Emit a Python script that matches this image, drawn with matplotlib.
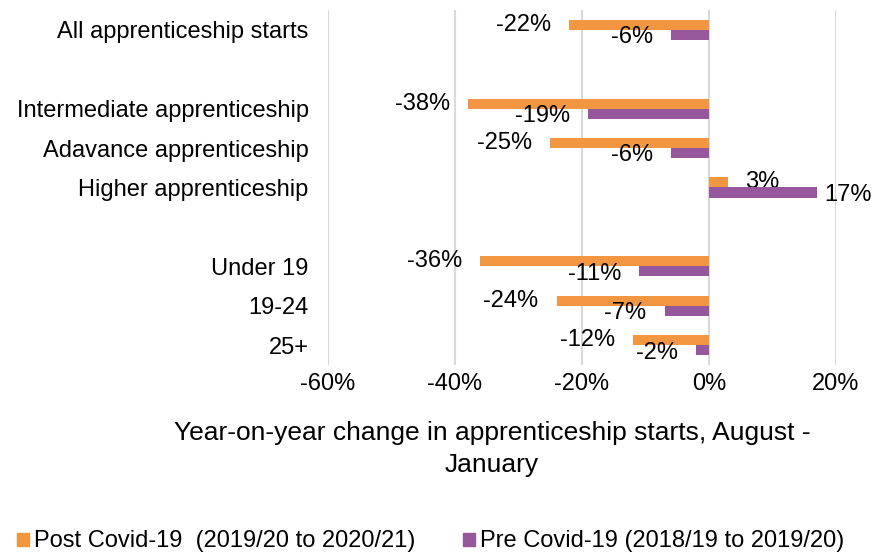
import numpy as np
import matplotlib.pyplot as plt

plt.rcParams['font.family'] = ['Liberation Sans', 'DejaVu Sans']

# ===================== 数据 =====================
categories = ['All apprenticeship starts', '', 'Intermediate apprenticeship',
              'Adavance apprenticeship', 'Higher apprenticeship', '',
              'Under 19', '19-24', '25+']
post_covid = [-22, None, -38, -25, 3, None, -36, -24, -12]
pre_covid = [-6, None, -19, -6, 17, None, -11, -7, -2]
post_label = 'Post Covid-19  (2019/20 to 2020/21)'
pre_label = 'Pre Covid-19 (2018/19 to 2019/20)'
x_ticks = [-60, -40, -20, 0, 20]

ORANGE = '#F39641'
PURPLE = '#97579D'
FS = 17
W, H = 872, 553

fig = plt.figure(figsize=(W / 100, H / 100), dpi=100)
ax = fig.add_axes([328 / W, 1 - 365 / H, (836 - 328) / W, (365 - 10) / H])

y = np.arange(len(categories))
h = 0.255
for vals, off, col, dy in [(post_covid, -h / 2, ORANGE, 0.0), (pre_covid, h / 2, PURPLE, 0.06)]:
    for yi, v in zip(y, vals):
        if v is None:
            continue
        ax.barh(yi + off, v, height=h, color=col, zorder=3)
        # 右侧靠近边缘的标签间距缩小，避免被裁掉
        if v > 0:
            dx = 12 if v < 10 else 5
        else:
            dx = -13
        ax.annotate(f'{v}%', xy=(v, yi + off + dy),
                    xytext=(dx, 0), textcoords='offset points',
                    ha='left' if v > 0 else 'right', va='center',
                    fontsize=FS, annotation_clip=False)

ax.set_xlim(-60, 20)
ax.set_ylim(len(categories) - 0.5, -0.5)
ax.set_xticks(x_ticks)
ax.set_xticklabels([f'{t}%' for t in x_ticks], fontsize=FS)
ax.set_yticks(y)
ax.set_yticklabels(categories, fontsize=FS)
ax.tick_params(length=0)
ax.tick_params(axis='x', pad=6)
ax.tick_params(axis='y', pad=14)
ax.grid(axis='x', color='#D9D9D9', linewidth=1.5, zorder=0)
for s in ax.spines.values():
    s.set_visible(False)

# 坐标轴标题（两行，居中）
fig.text(492 / W, 1 - 440 / H, 'Year-on-year change in apprenticeship starts, August -',
         ha='center', va='baseline', fontsize=19)
fig.text(492 / W, 1 - 472 / H, 'January', ha='center', va='baseline', fontsize=19)

# 图例
for x0, lab, col in [(17, post_label, ORANGE), (463, pre_label, PURPLE)]:
    fig.patches.append(plt.Rectangle((x0 / W, 1 - 546 / H), 12 / W, 13 / H,
                                     transform=fig.transFigure, color=col))
    fig.text((x0 + 17) / W, 1 - 547 / H, lab, ha='left', va='baseline', fontsize=FS)

fig.savefig('out.png', dpi=100)
